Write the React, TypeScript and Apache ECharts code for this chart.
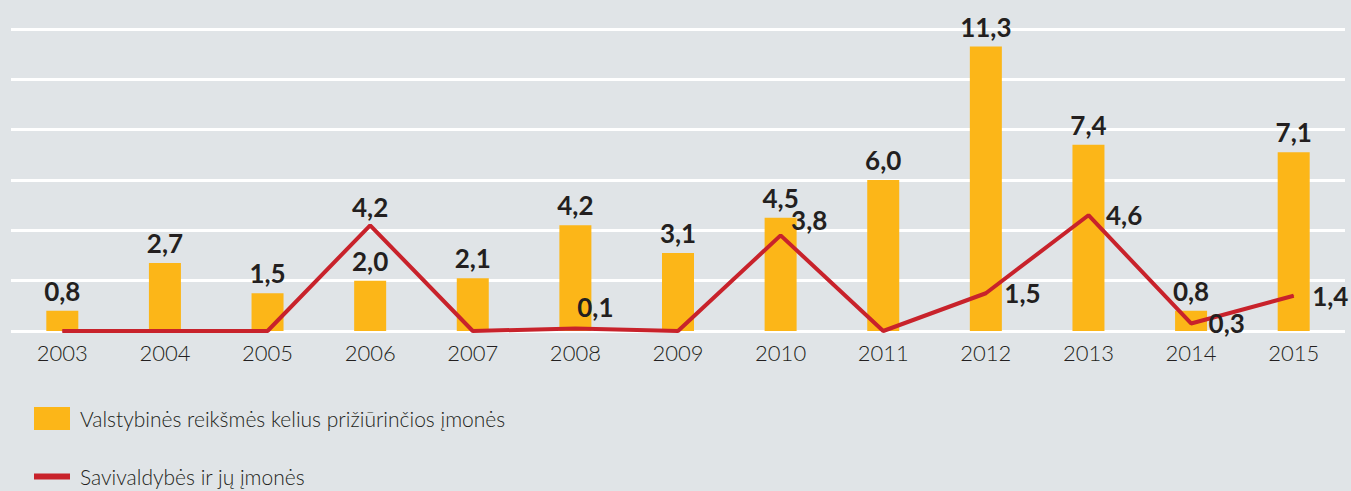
import React, { useEffect, useRef } from "react";
import * as echarts from "echarts";

const years = ["2003", "2004", "2005", "2006", "2007", "2008", "2009", "2010", "2011", "2012", "2013", "2014", "2015"];
const stateRoadCompanies = [0.8, 2.7, 1.5, 2.0, 2.1, 4.2, 3.1, 4.5, 6.0, 11.3, 7.4, 0.8, 7.1];
const municipalities = [0, 0, 0, 4.2, 0, 0.1, 0, 3.8, 0, 1.5, 4.6, 0.3, 1.4];
const seriesNames = ["Valstybinės reikšmės kelius prižiūrinčios įmonės", "Savivaldybės ir jų įmonės"];
const yMin = 0;
const yMax = 12;
const yStep = 2;

const BG = "#e0e4e7";
const BAR = "#fcb618";
const LINE = "#c8222b";
const TEXT = "#231f20";
const FONT = "Lato, 'Open Sans', sans-serif";

const fmt = (v: number) => v.toFixed(1).replace(".", ",");

// label placement for line points (style only)
const linePlacement: Record<number, any> = {
  3: { position: "top", distance: 5 },
  5: { position: "top", distance: 4, offset: [20, -4] },
  7: { position: "right", distance: 10, offset: [0, -15] },
  9: { position: "right", distance: 18 },
  10: { position: "right", distance: 17 },
  11: { position: "right", distance: 17 },
  12: { position: "right", distance: 18 },
};

export default function App() {
  const ref = useRef<HTMLDivElement>(null);
  useEffect(() => {
    document.body.style.margin = "0";
    const chart = echarts.init(ref.current!, undefined, { renderer: "svg" });
    const labelStyle = {
      fontFamily: FONT,
      fontWeight: "bold" as const,
      fontSize: 26,
      color: TEXT,
    };
    const lineData = municipalities.map((v, i) => {
      const p = linePlacement[i];
      return {
        value: v,
        label: p ? { show: true, ...p } : { show: false },
      };
    });
    const legendText = { fontFamily: FONT, fontSize: 21, fontWeight: 300, color: TEXT, padding: [0, 0, 0, 5] };
    chart.setOption({
      animation: false,
      backgroundColor: BG,
      grid: { left: 11, right: 6, top: 29, bottom: 160, containLabel: false },
      legend: [
        {
          left: 34,
          top: 407,
          padding: 0,
          itemWidth: 36,
          itemHeight: 23,
          orient: "vertical",
          selectedMode: false,
          data: [{ name: seriesNames[0], icon: "rect" }],
          textStyle: legendText,
        },
        {
          left: 34,
          top: 466,
          padding: 0,
          itemWidth: 36,
          itemHeight: 6,
          orient: "vertical",
          selectedMode: false,
          data: [{ name: seriesNames[1], icon: "rect" }],
          textStyle: legendText,
        },
      ],
      xAxis: {
        type: "category",
        data: years,
        axisLine: { show: false },
        axisTick: { show: false },
        axisLabel: { fontFamily: FONT, fontSize: 22, fontWeight: 300, color: TEXT, margin: 10 },
      },
      yAxis: {
        type: "value",
        min: yMin,
        max: yMax,
        interval: yStep,
        axisLabel: { show: false },
        axisLine: { show: false },
        axisTick: { show: false },
        splitLine: { lineStyle: { color: "#ffffff", width: 3 } },
      },
      series: [
        {
          name: seriesNames[0],
          type: "bar",
          data: stateRoadCompanies,
          barWidth: 32,
          itemStyle: { color: BAR },
          label: {
            show: true,
            position: "top",
            distance: 7,
            formatter: (p: any) => fmt(p.value),
            ...labelStyle,
          },
          z: 2,
        },
        {
          name: seriesNames[1],
          type: "line",
          data: lineData,
          symbol: "circle",
          symbolSize: 1,
          showSymbol: true,
          itemStyle: { color: LINE },
          lineStyle: { color: LINE, width: 4 },
          label: {
            formatter: (p: any) => fmt(p.value),
            ...labelStyle,
          },
          z: 3,
        },
      ],
    });
    return () => chart.dispose();
  }, []);
  return <div ref={ref} style={{ width: 1351, height: 491, background: BG }} />;
}
